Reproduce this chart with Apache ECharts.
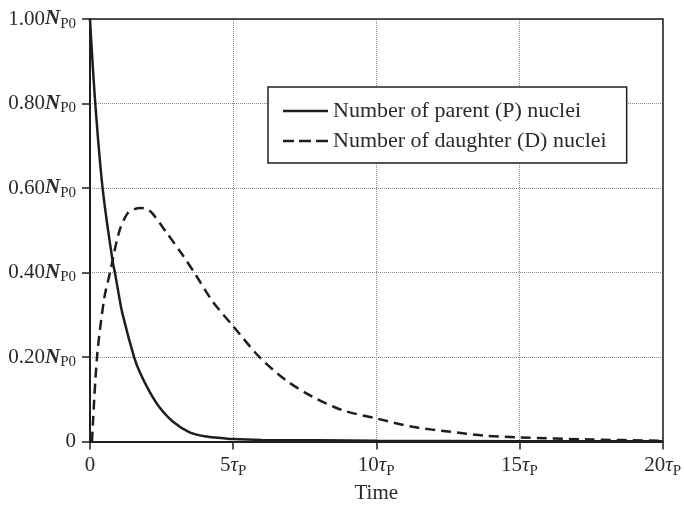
<!DOCTYPE html>
<html>
<head>
<meta charset="utf-8">
<script src="https://cdn.jsdelivr.net/npm/echarts@6/dist/echarts.min.js"></script>
<style>
html,body{margin:0;padding:0;background:#fff;}
#chart{width:684px;height:509px;}
</style>
</head>
<body>
<div id="chart"></div>
<script>
// ---- data ----
const seriesNames = ['Number of parent (P) nuclei', 'Number of daughter (D) nuclei'];

const parentT = [0, 0.185, 0.44, 0.79, 0.87, 1.0, 1.14, 1.54, 1.74, 2.09, 2.44, 2.90, 3.48, 4.07, 4.65, 5, 6, 8, 10, 15, 20];
const parentN = [1.0, 0.80, 0.60, 0.427, 0.40, 0.35, 0.301, 0.20, 0.164, 0.117, 0.080, 0.047, 0.022, 0.012, 0.008, 0.006, 0.004, 0.003, 0.002, 0.001, 0.001];

const daughterT = [0.07, 0.245, 0.50, 0.70, 1.02, 1.31, 1.55, 1.78, 2.0, 2.18, 2.65, 3.23, 3.69, 4.27, 4.99, 5.92, 6.85, 7.78, 8.83, 9.99, 11.27, 12.5, 13.8, 15, 17.5, 20];
const daughterN = [0, 0.20, 0.34, 0.40, 0.497, 0.54, 0.550, 0.553, 0.550, 0.54, 0.497, 0.442, 0.395, 0.333, 0.274, 0.20, 0.145, 0.106, 0.074, 0.055, 0.035, 0.024, 0.014, 0.010, 0.005, 0.002];

const xTickValues = [0, 5, 10, 15, 20];
const xTickLabels = ['0', '5', '10', '15', '20'];
const yTickValues = [0, 0.2, 0.4, 0.6, 0.8, 1.0];
const yTickLabels = ['0', '0.20', '0.40', '0.60', '0.80', '1.00'];

const xName = 'Time';

// ---- build ----
const zip = (a, b) => a.map((v, i) => [v, b[i]]);
const FONT = '"Liberation Serif", "DejaVu Serif", serif';
const TXT = '#2a2a2a';
const LINE = '#1e1e1e';

function findLabel(values, labels, v) {
  for (let i = 0; i < values.length; i++) if (Math.abs(values[i] - v) < 1e-9) return labels[i];
  return '';
}

const chart = echarts.init(document.getElementById('chart'), null, {renderer: 'canvas'});
chart.setOption({
  animation: false,
  backgroundColor: '#fff',
  grid: {left: 90, right: 20, top: 19, bottom: 64, show: false},
  legend: {
    orient: 'vertical',
    left: 268, top: 87,
    padding: [13, 20, 11, 15],
    itemWidth: 45, itemHeight: 2.6, itemGap: 8,
    borderColor: LINE, borderWidth: 1.5,
    backgroundColor: '#fff',
    textStyle: {fontFamily: FONT, fontSize: 22, color: TXT, lineHeight: 22},
    data: [
      {name: seriesNames[0], icon: 'path://M0,0H45V2.6H0Z'},
      {name: seriesNames[1], icon: 'path://M0,0H11V2.6H0Z M16,0H28V2.6H16Z M33,0H45V2.6H33Z'}
    ]
  },
  xAxis: [{
    type: 'value', min: 0, max: 20, interval: 5,
    name: xName, nameLocation: 'middle', nameGap: 41,
    nameTextStyle: {fontFamily: FONT, fontSize: 21, color: TXT},
    axisLine: {show: true, onZero: false, lineStyle: {color: LINE, width: 2}},
    axisTick: {show: true, inside: false, length: 8, lineStyle: {color: LINE, width: 1.5}},
    axisLabel: {
      margin: 11,
      formatter: function (v) {
        const l = findLabel(xTickValues, xTickLabels, v);
        if (l === '0') return '{n|0}';
        return '{n|' + l + '}{t|τ}{s|P}';
      },
      rich: {
        n: {fontFamily: FONT, fontSize: 21, color: TXT, lineHeight: 26},
        t: {fontFamily: FONT, fontSize: 21, fontStyle: 'italic', color: TXT, lineHeight: 26},
        s: {fontFamily: FONT, fontSize: 15, color: TXT, padding: [10, 0, 0, 0]}
      }
    },
    splitLine: {show: true, lineStyle: {type: 'dotted', color: '#8a8a8a', width: 1}}
  }, {
    type: 'value', min: 0, max: 20, interval: 5, position: 'top',
    axisLine: {show: true, onZero: false, lineStyle: {color: LINE, width: 1.5}},
    axisTick: {show: false}, axisLabel: {show: false}, splitLine: {show: false}
  }],
  yAxis: [{
    type: 'value', min: 0, max: 1, interval: 0.2,
    axisLine: {show: true, onZero: false, lineStyle: {color: LINE, width: 2}},
    axisTick: {show: true, inside: false, length: 8, lineStyle: {color: LINE, width: 1.5}},
    axisLabel: {
      margin: 14,
      formatter: function (v) {
        const l = findLabel(yTickValues, yTickLabels, v);
        if (l === '0') return '{a|0}';
        return '{a|' + l + '}{b|N}{c|P0}';
      },
      rich: {
        a: {fontFamily: FONT, fontSize: 21, color: TXT, lineHeight: 26},
        b: {fontFamily: FONT, fontSize: 21, fontWeight: 'bold', fontStyle: 'italic', color: TXT, lineHeight: 26},
        c: {fontFamily: FONT, fontSize: 15, color: TXT, padding: [10, 0, 0, 0]}
      }
    },
    splitLine: {show: true, lineStyle: {type: 'dotted', color: '#8a8a8a', width: 1}}
  }, {
    type: 'value', min: 0, max: 1, interval: 0.2, position: 'right',
    axisLine: {show: true, onZero: false, lineStyle: {color: LINE, width: 1.5}},
    axisTick: {show: false}, axisLabel: {show: false}, splitLine: {show: false}
  }],
  series: [{
    name: seriesNames[0], type: 'line', symbol: 'none', smooth: 0.35,
    lineStyle: {color: LINE, width: 2.5, type: 'solid'},
    itemStyle: {color: LINE},
    data: zip(parentT, parentN), z: 3
  }, {
    name: seriesNames[1], type: 'line', symbol: 'none', smooth: 0.3,
    lineStyle: {color: LINE, width: 2.5, type: [10, 6]},
    itemStyle: {color: LINE},
    data: zip(daughterT, daughterN), z: 3
  }]
});
</script>
</body>
</html>
